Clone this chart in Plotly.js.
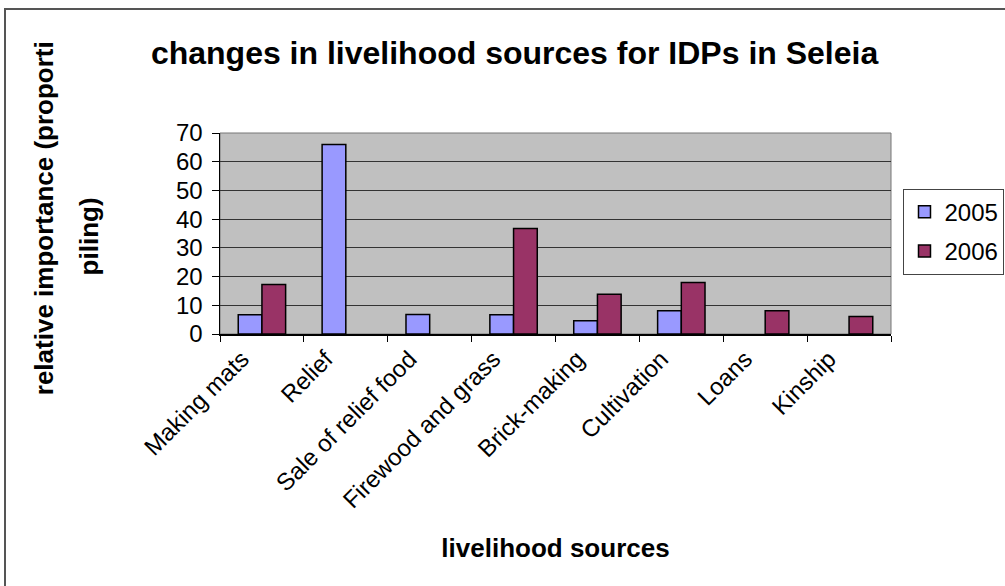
<!DOCTYPE html>
<html>
<head>
<meta charset="utf-8">
<script src="https://cdn.plot.ly/plotly-3.0.1.min.js"></script>
<style>
  html, body { margin: 0; padding: 0; background: #fff; }
  #wrap { position: relative; width: 1005px; height: 586px; overflow: hidden; }
  #chart { position: absolute; left: 0; top: 0; width: 1005px; height: 586px; }
  #frame { position: absolute; left: 4px; top: 8px; width: 1100px; height: 700px;
           border-left: 2px solid #555; border-top: 2px solid #555; pointer-events: none; }
</style>
</head>
<body>
<div id="wrap">
  <div id="chart"></div>
  <div id="frame"></div>
</div>
<script>
// livelihood sources and their relative importance (proportional piling)
const categories = ['Making mats', 'Relief', 'Sale of relief food', 'Firewood and grass',
                    'Brick-making', 'Cultivation', 'Loans', 'Kinship'];
const seriesNames = ['2005', '2006'];
const values2005 = [6.7, 66, 6.8, 6.7, 4.6, 8.1, null, null];
const values2006 = [17.2, null, null, 36.7, 13.8, 17.9, 8.1, 6.1];
const yTicks = [0, 10, 20, 30, 40, 50, 60, 70];

const FONT = 'Liberation Sans, Arial, sans-serif';

const traces = [
  { type: 'bar', name: seriesNames[0], legendgroup: 'a', x: categories, y: values2005,
    marker: { color: '#9999FF', line: { color: '#000', width: 1.5 } } },
  { type: 'bar', name: seriesNames[1], legendgroup: 'b', x: categories, y: values2006,
    marker: { color: '#993366', line: { color: '#000', width: 1.5 } } }
];

const layout = {
  width: 1005, height: 586,
  margin: { l: 220, r: 114, t: 133, b: 252 },
  paper_bgcolor: '#fff',
  plot_bgcolor: '#C0C0C0',
  font: { family: FONT, color: '#000', size: 20 },
  barmode: 'group',
  bargap: 0.435,
  bargroupgap: 0,
  showlegend: true,
  title: {
    text: '<b>changes in livelihood sources for IDPs in Seleia</b>',
    font: { family: FONT, size: 32, color: '#000' },
    x: 0.512, xanchor: 'center', y: 0.91, yanchor: 'middle'
  },
  xaxis: {
    type: 'category',
    tickangle: -45,
    tickson: 'boundaries',
    ticks: 'outside', ticklen: 6, tickcolor: '#000', tickwidth: 1,
    ticklabelshift: -20,
    showline: true, linecolor: '#000', linewidth: 1.5,
    showgrid: false,
    tickfont: { family: FONT, size: 24, color: '#000' },
    title: { text: '<b>livelihood sources</b>', font: { family: FONT, size: 26, color: '#000' }, standoff: 26 },
    automargin: false
  },
  yaxis: {
    range: [0, 70],
    tickvals: yTicks,
    ticktext: yTicks.map(String),
    ticks: 'outside', ticklen: 7, tickcolor: '#000', tickwidth: 1,
    ticklabelstandoff: 4,
    showline: true, linecolor: '#000', linewidth: 1.5,
    showgrid: true, gridcolor: '#333', gridwidth: 1,
    zeroline: false,
    tickfont: { family: FONT, size: 24, color: '#000' },
    automargin: false
  },
  legend: {
    xref: 'container', yref: 'container',
    x: 0.899, xanchor: 'left', y: 0.678, yanchor: 'top',
    bgcolor: '#fff', bordercolor: '#444', borderwidth: 1,
    font: { family: FONT, size: 24, color: '#000' },
    itemwidth: 30, traceorder: 'grouped', tracegroupgap: 5
  },
  annotations: [
    { text: '<b>relative importance (proporti</b>', xref: 'paper', yref: 'paper',
      x: -0.262, y: 0.577, xanchor: 'center', yanchor: 'middle', textangle: -90,
      showarrow: false, font: { family: FONT, size: 26, color: '#000' } },
    { text: '<b>piling)</b>', xref: 'paper', yref: 'paper',
      x: -0.196, y: 0.488, xanchor: 'center', yanchor: 'middle', textangle: -90,
      showarrow: false, font: { family: FONT, size: 26, color: '#000' } }
  ]
};

// plot area's top and right edges
layout.shapes = [
  { type: 'rect', xref: 'paper', yref: 'paper', x0: 0, x1: 1, y0: 0, y1: 1,
    line: { color: '#777', width: 1 }, fillcolor: 'rgba(0,0,0,0)', layer: 'below' }
];

Plotly.newPlot('chart', traces, layout, { staticPlot: true, displayModeBar: false });
</script>
</body>
</html>
